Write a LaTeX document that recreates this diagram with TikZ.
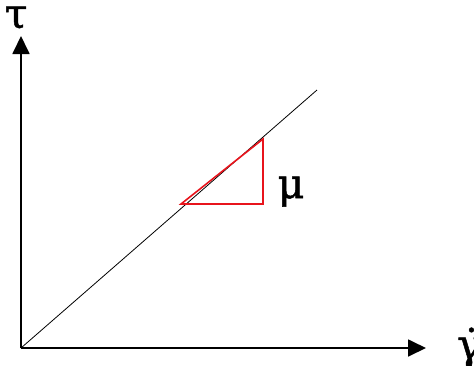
\documentclass[tikz,border=0pt]{standalone}
\usepackage{fontspec}
\setmainfont[FakeBold=1.2]{DejaVu Serif}
\usetikzlibrary{arrows.meta}
\definecolor{slred}{HTML}{E8141C}

\begin{document}
\begin{tikzpicture}[x=1pt, y=-1pt, font=\fontsize{41}{41}\selectfont]
  \useasboundingbox (0,0) rectangle (474,365);
  \coordinate (O) at (21,348);
  \coordinate (ytip) at (21,36);
  \coordinate (xtip) at (426,348);
  \coordinate (lend) at (317,90);
  % axes
  \draw[-{Triangle[length=18pt, width=17pt]}, line width=1.8pt] (O) -- (ytip);
  \draw[-{Triangle[length=18pt, width=17pt]}, line width=1.8pt] (O) -- (xtip);
  % stress--rate line
  \draw[line width=0.8pt] (O) -- (lend);
  % slope triangle
  \draw[slred, line width=1.6pt] (181,204) -- (263,204) -- (263,139) -- cycle;
  \node[inner sep=0pt, anchor=base] (tau) at (16,28) {τ};
  \node[inner sep=0pt, anchor=base] (mu) at (291,198) {μ};
  \node[inner sep=0pt, anchor=base west] (gdot) at (457,359) {γ̇};
\end{tikzpicture}
\end{document}
